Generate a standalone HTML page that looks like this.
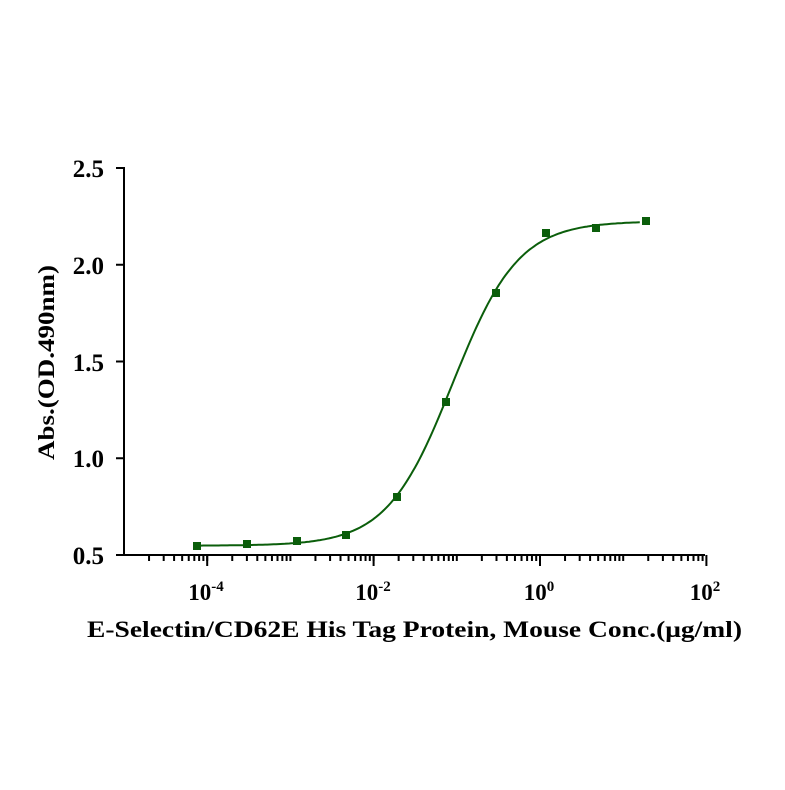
<!DOCTYPE html>
<html><head><meta charset="utf-8"><style>
html,body{margin:0;padding:0;background:#fff;}
svg text{font-family:"Liberation Serif",serif;font-weight:bold;fill:#000;}
</style></head><body>
<svg id="s" width="785" height="785" viewBox="0 0 785 785" xmlns="http://www.w3.org/2000/svg">
<rect width="785" height="785" fill="#fff"/>
<g id="ax" stroke="#000" stroke-width="2" fill="none">
<line x1="124" y1="167" x2="124" y2="556"/>
<line x1="123" y1="555" x2="705" y2="555"/>
</g>
<g font-size="25" text-anchor="end">
<text x="104" y="177">2.5</text>
<text x="104" y="274">2.0</text>
<text x="104" y="371">1.5</text>
<text x="104" y="467">1.0</text>
<text x="104" y="564">0.5</text>
</g>
<g font-size="23" text-anchor="middle">
<text x="206" y="600">10<tspan font-size="15" dy="-9">-4</tspan></text>
<text x="373" y="600">10<tspan font-size="15" dy="-9">-2</tspan></text>
<text x="539" y="600">10<tspan font-size="15" dy="-9">0</tspan></text>
<text x="705" y="600">10<tspan font-size="15" dy="-9">2</tspan></text>
</g>
<text x="87" y="637" font-size="23" textLength="655" lengthAdjust="spacingAndGlyphs">E-Selectin/CD62E His Tag Protein, Mouse Conc.(μg/ml)</text>
<text transform="translate(54,460) rotate(-90)" font-size="23" textLength="195" lengthAdjust="spacingAndGlyphs">Abs.(OD.490nm)</text>
<path id="curve" fill="none" stroke="#0b5e0b" stroke-width="2"/>
<g id="pts" fill="#0b5e0b"></g>
</svg>
<script>
var ns="http://www.w3.org/2000/svg",ax=document.getElementById('ax');
function X(l){return 124+(l+5)*83.2;}
function Y(v){return 555-(v-0.5)*193.5;}
function ln(x1,y1,x2,y2){var e=document.createElementNS(ns,'line');e.setAttribute('x1',x1);e.setAttribute('y1',y1);e.setAttribute('x2',x2);e.setAttribute('y2',y2);ax.appendChild(e);}
[0.5,1,1.5,2,2.5].forEach(function(v){ln(116,Y(v),124,Y(v));});
for(var d=-4;d<=2;d+=2){ln(X(d),555,X(d),566);}
for(var d=-5;d<2;d++){if(d!==-5)ln(X(d),555,X(d),561);for(var k=2;k<=9;k++){var x=X(d+Math.log10(k));ln(x,555,x,561);}}
var p="";for(var i=0;i<=200;i++){var l=-4.1+i*(5.3/200);var v=0.548+1.677/(1+Math.pow(10,(-1.05-l)*1.1));p+=(i?"L":"M")+X(l).toFixed(1)+","+Y(v).toFixed(1);}
document.getElementById('curve').setAttribute('d',p);
var pts=[[197,546],[247,544],[297,541],[346,535],[397,497],[446,402],[496,293],[546,233],[596,228],[646,221]],g=document.getElementById('pts');
pts.forEach(function(q){var r=document.createElementNS(ns,'rect');r.setAttribute('x',q[0]-4);r.setAttribute('y',q[1]-4);r.setAttribute('width',8);r.setAttribute('height',8);g.appendChild(r);});
</script>
</body></html>
